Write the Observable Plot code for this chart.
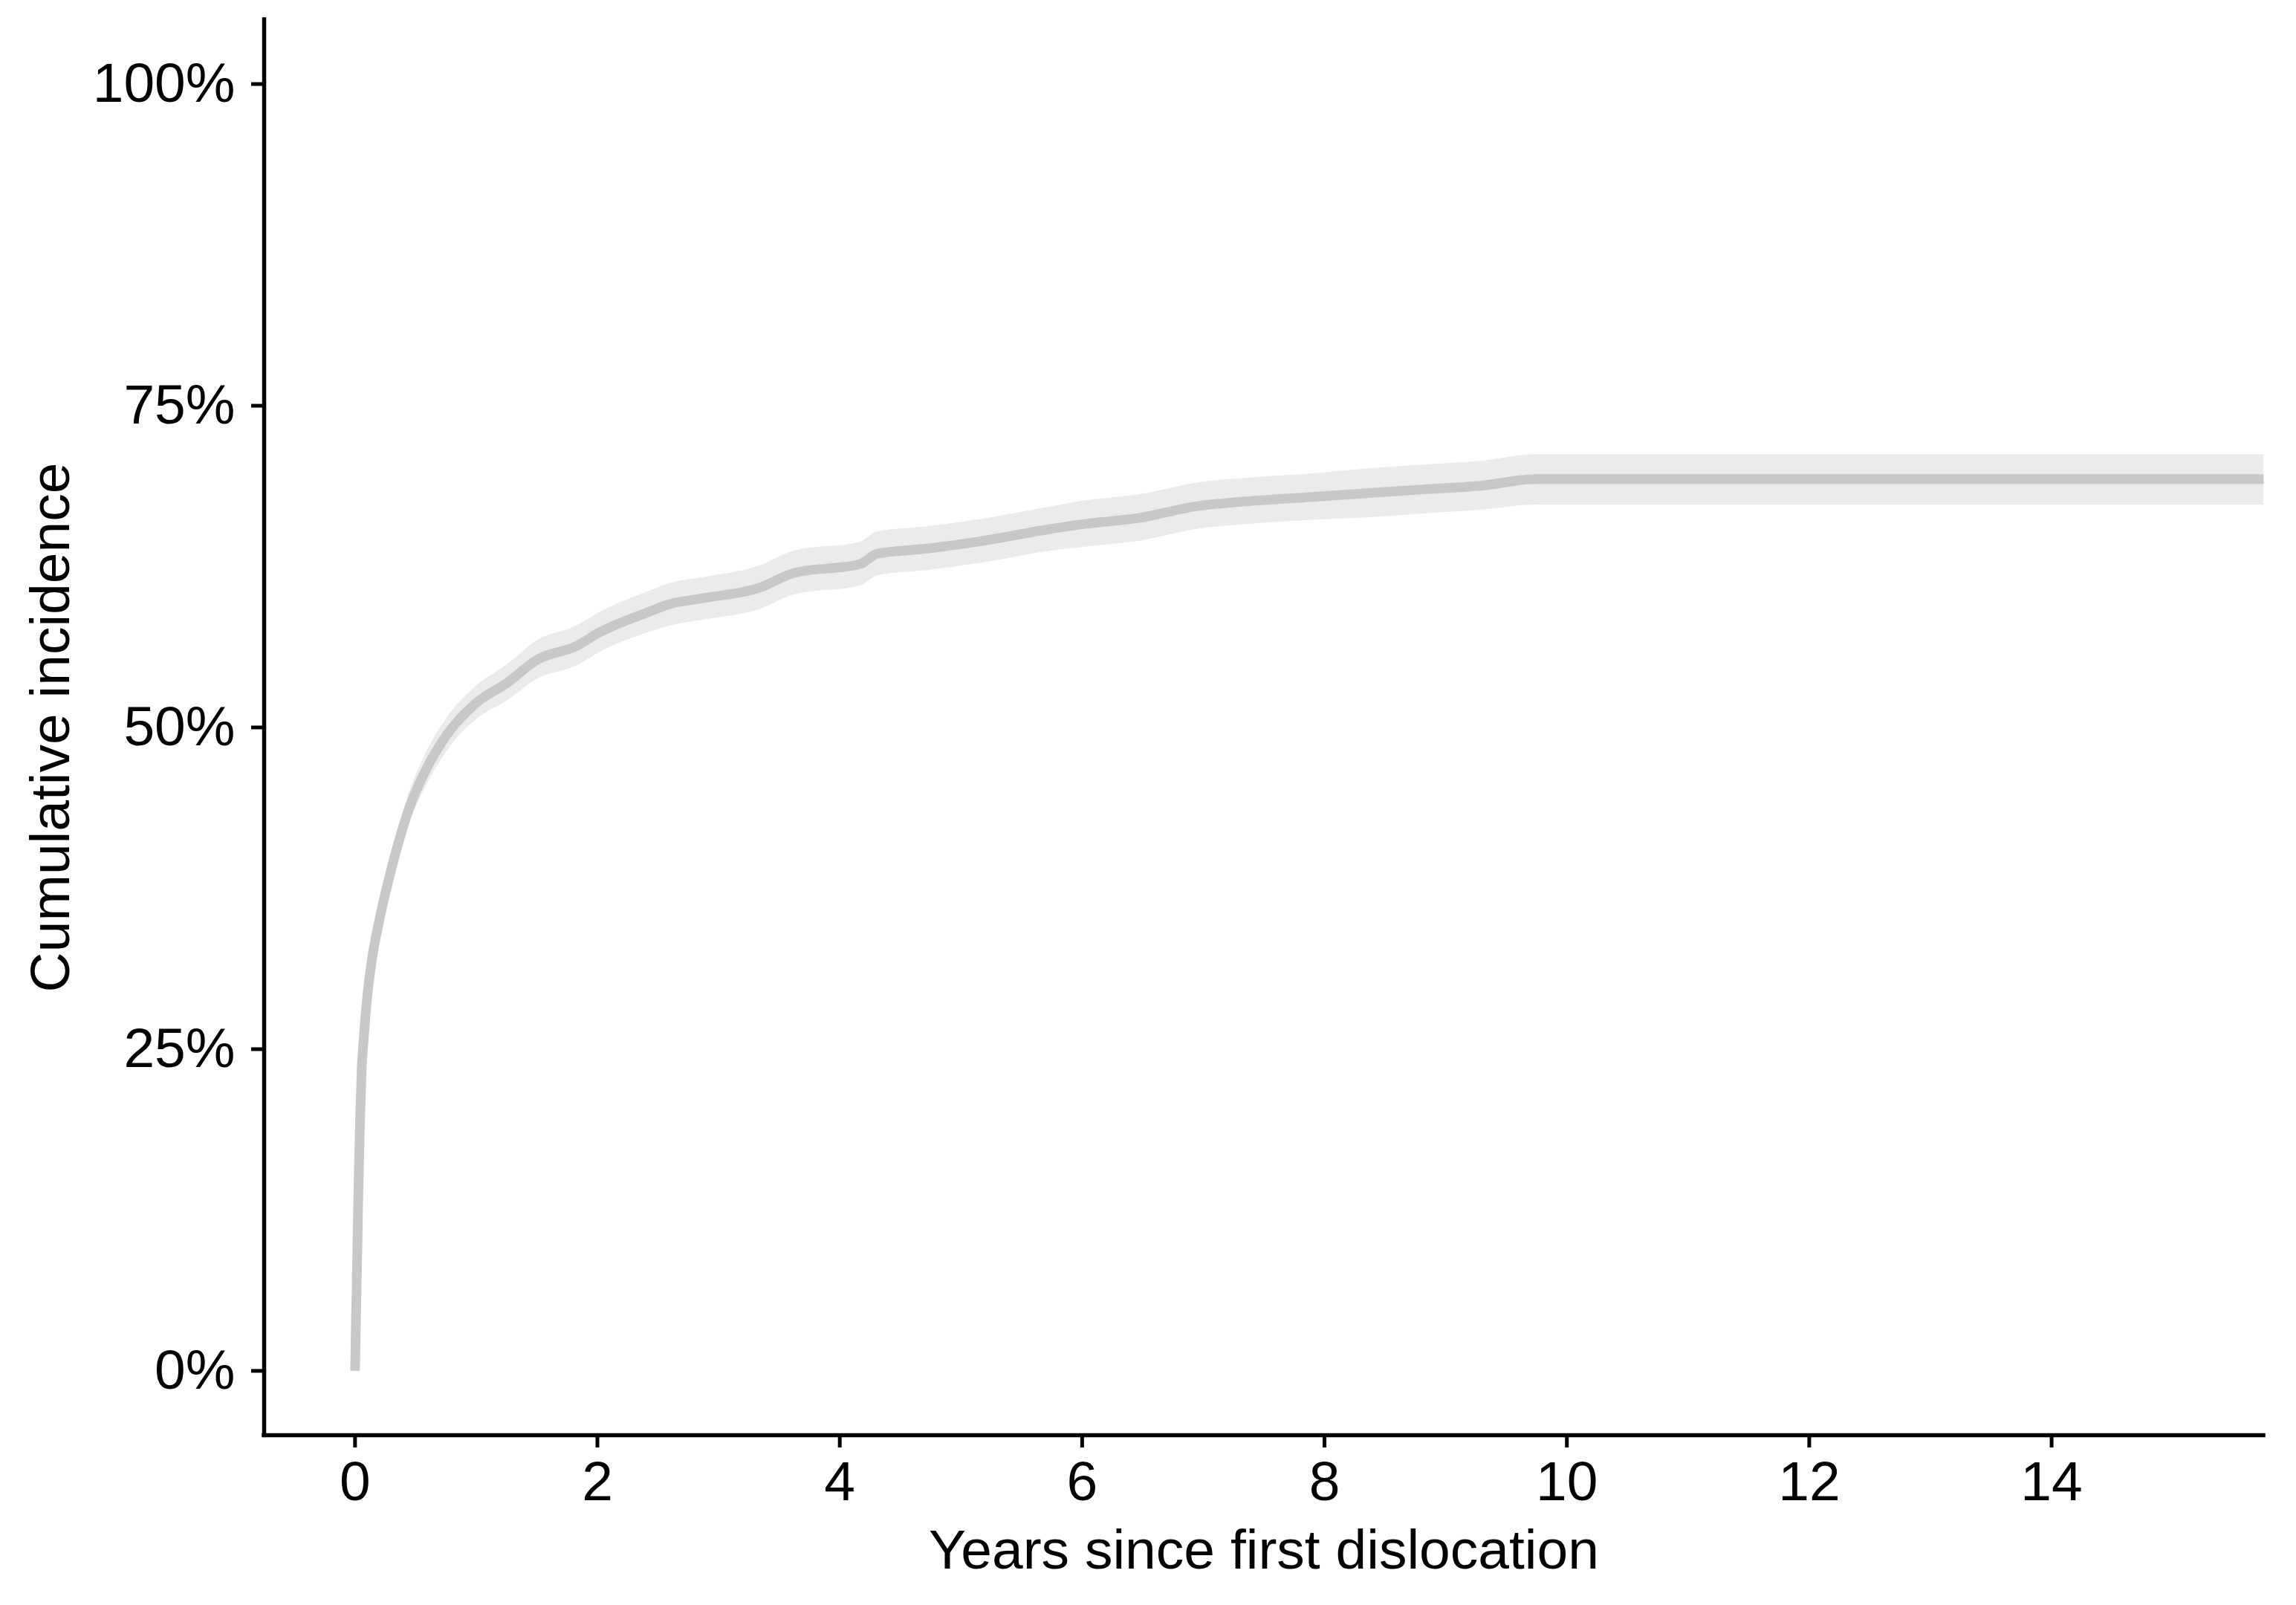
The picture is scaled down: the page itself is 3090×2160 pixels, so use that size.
<!DOCTYPE html>
<html>
<head>
<meta charset="utf-8">
<script src="https://cdn.jsdelivr.net/npm/d3@7"></script>
<script src="https://cdn.jsdelivr.net/npm/@observablehq/plot@0.6"></script>
<style>
  html, body { margin: 0; padding: 0; background: #ffffff; overflow: hidden; }
  #chart svg { display: block; }
</style>
</head>
<body>
<div id="chart"></div>
<script>
// Years since first dislocation
const years = [0, 0.01, 0.02, 0.03, 0.04, 0.055, 0.07, 0.10, 0.14, 0.20, 0.30, 0.45, 0.59, 0.755, 1.0, 1.245, 1.51, 1.82, 2.02, 2.43, 2.6, 2.84, 3.35, 3.62, 4.17, 4.31, 4.72, 5.25, 5.66, 6.01, 6.48, 6.95, 7.4, 7.88, 8.35, 8.82, 9.3, 9.75, 15.75];
// Cumulative incidence estimate
const incidence = [0, 0.05, 0.10, 0.15, 0.19, 0.235, 0.256, 0.29, 0.32, 0.35, 0.39, 0.438, 0.468, 0.494, 0.519, 0.534, 0.553, 0.563, 0.574, 0.59, 0.596, 0.6, 0.609, 0.62, 0.627, 0.635, 0.639, 0.646, 0.653, 0.658, 0.663, 0.672, 0.676, 0.679, 0.682, 0.685, 0.688, 0.693, 0.693];
// Confidence band
const lower = [0, 0.048, 0.098, 0.147, 0.186, 0.23, 0.25, 0.283, 0.312, 0.341, 0.38, 0.426, 0.455, 0.481, 0.506, 0.52, 0.538, 0.5475, 0.5585, 0.574, 0.579, 0.583, 0.592, 0.603, 0.61, 0.618, 0.622, 0.629, 0.636, 0.64, 0.645, 0.654, 0.658, 0.661, 0.663, 0.666, 0.669, 0.673, 0.673];
const upper = [0, 0.052, 0.102, 0.153, 0.194, 0.24, 0.262, 0.297, 0.328, 0.359, 0.4, 0.45, 0.481, 0.507, 0.532, 0.548, 0.568, 0.5785, 0.5895, 0.606, 0.612, 0.616, 0.626, 0.637, 0.644, 0.652, 0.656, 0.663, 0.67, 0.676, 0.681, 0.69, 0.694, 0.697, 0.701, 0.704, 0.707, 0.712, 0.712];

const xTicks = [0, 2, 4, 6, 8, 10, 12, 14];
const yTicks = [0, 0.25, 0.5, 0.75, 1];
const yTickLabels = ["0%", "25%", "50%", "75%", "100%"];
const xTitle = "Years since first dislocation";
const yTitle = "Cumulative incidence";

const rows = years.map((t, i) => ({t, v: incidence[i], lo: lower[i], hi: upper[i]}));

const font = "'Liberation Sans', Arial, Helvetica, sans-serif";

const chart = Plot.plot({
  width: 3090,
  height: 2160,
  marginLeft: 355,
  marginRight: 44,
  marginTop: 26,
  marginBottom: 229,
  style: {fontFamily: font, fontSize: "75px", color: "#000000", background: "#ffffff"},
  x: {domain: [-0.75, 15.75]},
  y: {domain: [-0.05, 1.05]},
  marks: [
    Plot.areaY(rows, {x: "t", y1: "lo", y2: "hi", fill: "#ebebeb", curve: "monotone-x"}),
    Plot.line(rows, {x: "t", y: "v", stroke: "#c8c8c8", strokeWidth: 13, curve: "monotone-x", strokeLinecap: "butt", strokeLinejoin: "round"}),
    Plot.ruleX([-0.75], {stroke: "#000000", strokeWidth: 5.5, strokeLinecap: "square"}),
    Plot.ruleY([-0.05], {stroke: "#000000", strokeWidth: 5.5, strokeLinecap: "square"}),
    Plot.axisX({ticks: xTicks, tickSize: 17, tickPadding: 17, strokeWidth: 5, fontSize: 75, label: null, anchor: "bottom"}),
    Plot.axisY({ticks: yTicks, tickFormat: (d) => yTickLabels[yTicks.indexOf(d)], tickSize: 17, tickPadding: 22, strokeWidth: 5, fontSize: 75, label: null, anchor: "left"}),
    Plot.text([xTitle], {frameAnchor: "bottom", textAnchor: "middle", lineAnchor: "bottom", dy: 179, text: (d) => d, fontSize: 75, fill: "#000000"}),
    Plot.text([yTitle], {frameAnchor: "left", textAnchor: "middle", lineAnchor: "bottom", rotate: -90, dx: -263, text: (d) => d, fontSize: 75, fill: "#000000"})
  ]
});

document.getElementById("chart").appendChild(chart);
</script>
</body>
</html>
